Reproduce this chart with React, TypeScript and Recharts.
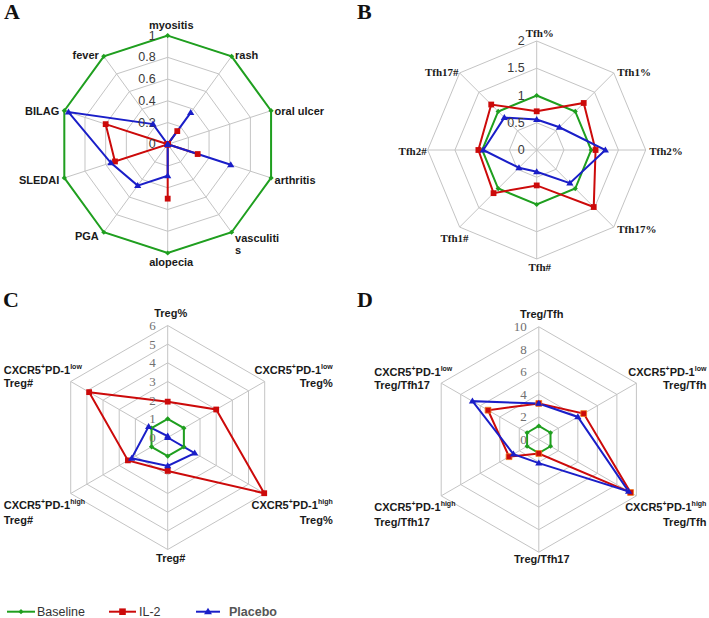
import React from 'react';
import { RadarChart, Radar, PolarGrid, PolarAngleAxis, PolarRadiusAxis } from 'recharts';

// ---------- data ----------
const SERIES_NAMES = ['Baseline', 'IL-2', 'Placebo'];

const categoriesA = ['myositis', 'rash', 'oral ulcer', 'arthritis', 'vasculitis', 'alopecia', 'PGA', 'SLEDAI', 'BILAG', 'fever'];
const baselineA = [1, 1, 1, 1, 1, 1, 1, 1, 1, 1];
const il2A = [0, 0.15, 0, 0.29, 0, 0.5, 0, 0.51, 0.6, 0];
const placeboA = [0, 0.36, 0, 0.61, 0, 0.29, 0.47, 0.55, 0.96, 0.23];
const ticksA = [0, 0.2, 0.4, 0.6, 0.8, 1];

const categoriesB = ['Tfh%', 'Tfh1%', 'Tfh2%', 'Tfh17%', 'Tfh#', 'Tfh1#', 'Tfh2#', 'Tfh17#'];
const baselineB = [1, 1, 1, 1, 1, 1, 1, 1];
const il2B = [0.71, 1.22, 1.08, 1.48, 0.65, 1.12, 1.07, 1.18];
const placeboB = [0.56, 0.59, 1.26, 0.86, 0.4, 0.46, 0.98, 0.84];
const ticksB = [0, 0.5, 1, 1.5, 2];

const categoriesC = ['Treg%', 'CXCR5+PD-1low Treg%', 'CXCR5+PD-1high Treg%', 'Treg#', 'CXCR5+PD-1high Treg#', 'CXCR5+PD-1low Treg#'];
const baselineC = [1, 1, 1, 1, 1, 1];
const il2C = [1.92, 3.0, 5.97, 1.79, 2.46, 4.86];
const placeboC = [0.08, 0, 1.67, 1.52, 2.23, 1.18];
const ticksC = [0, 1, 2, 3, 4, 5, 6];

const categoriesD = ['Treg/Tfh', 'CXCR5+PD-1low Treg/Tfh', 'CXCR5+PD-1high Treg/Tfh', 'Treg/Tfh17', 'CXCR5+PD-1high Treg/Tfh17', 'CXCR5+PD-1low Treg/Tfh17'];
const baselineD = [1.2, 1.2, 1.2, 1.2, 1.2, 1.2];
const il2D = [3.2, 4.6, 9.4, 1.24, 3.05, 5.2];
const placeboD = [3.2, 4.0, 9.2, 2.1, 2.6, 6.8];
const ticksD = [0, 2, 4, 6, 8, 10];

// ---------- styles ----------
const SANS = "'Liberation Sans', Arial, sans-serif";
const SERIF = "'Liberation Serif', 'Times New Roman', serif";

const SERIES_STYLE: Record<string, { color: string; shape: string; size: number }> = {
  Baseline: { color: '#1f9f1f', shape: 'diamond', size: 2.6 },
  'IL-2': { color: '#cc0a0a', shape: 'square', size: 2.9 },
  Placebo: { color: '#1a1ec8', shape: 'triangle', size: 3.0 },
};

function shapePath(shape: string, x: number, y: number, s: number) {
  if (shape === 'diamond') return `M${x},${y - s}L${x + s},${y}L${x},${y + s}L${x - s},${y}Z`;
  if (shape === 'square') return `M${x - s},${y - s}h${2 * s}v${2 * s}h${-2 * s}Z`;
  return `M${x},${y - s * 1.2}L${x + s * 1.2},${y + s * 0.8}L${x - s * 1.2},${y + s * 0.8}Z`;
}

function vertex(cx: number, cy: number, r: number, index: number, n: number) {
  const ang = ((90 - (index * 360) / n) * Math.PI) / 180;
  return { vx: cx + r * Math.cos(ang), vy: cy - r * Math.sin(ang), cos: Math.cos(ang), sin: Math.sin(ang) };
}

// simple labels for panels A and B
function makeSimpleTick(o: {
  cx: number; cy: number; r: number; n: number; font: string; gapR: number; gapL: number; k: number; c: number;
  topDy: number; botDy: number; midDx: number; wrap?: Record<string, string[]>; special?: Record<string, { dx: number; dy: number }>;
}) {
  return (props: any) => {
    const idx = props.payload?.index ?? props.index ?? 0;
    const value = String(props.payload?.value ?? '');
    const { vx, vy, cos, sin } = vertex(o.cx, o.cy, o.r, idx, o.n);
    let x: number, y: number, anchor: string;
    if (Math.abs(cos) < 0.01) {
      anchor = 'middle';
      x = vx + o.midDx;
      y = sin > 0 ? vy + o.topDy : vy + o.botDy;
    } else if (cos > 0) {
      anchor = 'start';
      x = vx + o.gapR;
      y = vy - sin * o.k + o.c;
    } else {
      anchor = 'end';
      x = vx - o.gapL;
      y = vy - sin * o.k + o.c;
    }
    if (o.special && o.special[value]) {
      x = vx + o.special[value].dx;
      y = vy + o.special[value].dy;
    }
    const lines = (o.wrap && o.wrap[value]) || [value];
    return (
      <g>
        {lines.map((ln, i) => (
          <text key={i} x={x} y={y + i * 12 + (lines.length > 1 ? 2 : 0)} textAnchor={anchor} dominantBaseline="central"
            fontFamily={o.font} fontWeight="bold" fontSize={11} fill="#1a1a1a">{ln}</text>
        ))}
      </g>
    );
  };
}

// two-line labels with superscripts for panels C and D
function makeCxcrTick(o: { cx: number; cy: number; r: number; n: number; topDy: number; botDy: number; rightDx: number; leftDx: number }) {
  return (props: any) => {
    const idx = props.payload?.index ?? props.index ?? 0;
    const value = String(props.payload?.value ?? '');
    const { vx, vy, cos, sin } = vertex(o.cx, o.cy, o.r, idx, o.n);
    const common = { fontFamily: SANS, fontWeight: 'bold' as const, fontSize: 11, fill: '#1a1a1a', dominantBaseline: 'central' as const };
    const m = /^CXCR5\+PD-1(low|high) (.+)$/.exec(value);
    if (!m) {
      return (
        <text x={vx + 3} y={sin > 0 ? vy + o.topDy : vy + o.botDy} textAnchor="middle" {...common}>{value}</text>
      );
    }
    const right = cos > 0;
    const upper = sin > 0;
    const x = right ? vx + o.rightDx : vx - o.leftDx;
    const anchor = right ? 'end' : 'start';
    const y1 = upper ? vy - 11.5 : vy + 11.5;
    const y2 = y1 + (upper ? 13 : 15);
    return (
      <g>
        <text x={x} y={y1} textAnchor={anchor} {...common}>
          CXCR5<tspan fontSize={7} dy={-4}>+</tspan><tspan fontSize={11} dy={4}>PD-1</tspan><tspan fontSize={7} dy={-4}>{m[1]}</tspan>
        </text>
        <text x={x} y={y2} textAnchor={anchor} {...common}>{m[2]}</text>
      </g>
    );
  };
}

function makeRadiusTick(font: string, color: string, size: number) {
  return (props: any) => {
    const v = Number(props.payload?.value);
    const label = String(Number(v.toFixed(2)));
    return (
      <text x={props.x - 12} y={props.y} textAnchor="end" dominantBaseline="central" fontFamily={font} fontSize={size} fill={color}>
        {label}
      </text>
    );
  };
}

type PanelCfg = {
  left: number; top: number; cx: number; cy: number; r: number;
  cats: string[]; values: number[][]; ticks: number[]; domain: [number, number];
  angleTick: any; radiusTick: any; squareStroke?: string;
};

const panelA: PanelCfg = {
  left: 0, top: 0, cx: 167.7, cy: 144.3, r: 108.7,
  cats: categoriesA, values: [baselineA, il2A, placeboA], ticks: ticksA, domain: [0, 1],
  angleTick: makeSimpleTick({ cx: 167.7, cy: 144.3, r: 108.7, n: 10, font: SANS, gapR: 3.5, gapL: 5, k: 3, c: 1.5, topDy: -10.7, botDy: 8.7, midDx: 3.5, wrap: { vasculitis: ['vasculiti', 's'] } }),
  radiusTick: makeRadiusTick(SANS, '#3a3a3a', 12.5),
};

const panelB: PanelCfg = {
  left: 354, top: 0, cx: 182.7, cy: 150, r: 109,
  cats: categoriesB, values: [baselineB, il2B, placeboB], ticks: ticksB, domain: [0, 2],
  angleTick: makeSimpleTick({ cx: 182.7, cy: 150, r: 109, n: 8, font: SERIF, gapR: 3.5, gapL: 1, k: 2, c: 0.5, topDy: -7.7, botDy: 7.7, midDx: 3, special: { 'Tfh1#': { dx: 9, dy: 10.5 } } }),
  radiusTick: makeRadiusTick(SANS, '#3a3a3a', 12.5),
};

const panelC: PanelCfg = {
  left: 0, top: 290, cx: 167.7, cy: 147.5, r: 112,
  cats: categoriesC, values: [baselineC, il2C, placeboC], ticks: ticksC, domain: [0, 6],
  angleTick: makeCxcrTick({ cx: 167.7, cy: 147.5, r: 112, n: 6, topDy: -12.2, botDy: 8.8, rightDx: 68, leftDx: 67 }),
  radiusTick: makeRadiusTick(SERIF, '#707070', 13),
};

const panelD: PanelCfg = {
  left: 354, top: 290, cx: 184.8, cy: 149.5, r: 112.7,
  cats: categoriesD, values: [baselineD, il2D, placeboD], ticks: ticksD, domain: [0, 10],
  angleTick: makeCxcrTick({ cx: 184.8, cy: 149.5, r: 112.7, n: 6, topDy: -13, botDy: 7, rightDx: 70, leftDx: 67 }),
  radiusTick: makeRadiusTick(SERIF, '#707070', 13),
  squareStroke: '#f07a1a',
};

function Panel({ cfg }: { cfg: PanelCfg }) {
  const data = cfg.cats.map((c, i) => ({
    cat: c,
    Baseline: cfg.values[0][i],
    'IL-2': cfg.values[1][i],
    Placebo: cfg.values[2][i],
  }));
  return (
    <div style={{ position: 'absolute', left: cfg.left, top: cfg.top, width: 354, height: 290 }}>
      <RadarChart width={354} height={290} data={data} cx={cfg.cx} cy={cfg.cy} outerRadius={cfg.r}
        margin={{ top: 0, right: 0, bottom: 0, left: 0 }}>
        <PolarGrid gridType="polygon" stroke="#c4c4c4" strokeWidth={1} />
        <PolarAngleAxis dataKey="cat" tick={cfg.angleTick} tickLine={false} axisLine={false} />
        <PolarRadiusAxis angle={90} type="number" domain={cfg.domain} ticks={cfg.ticks} tickCount={cfg.ticks.length}
          axisLine={false} tickLine={false} tick={cfg.radiusTick} />
        {SERIES_NAMES.map((name) => {
          const st = SERIES_STYLE[name];
          return (
            <Radar key={name} name={name} dataKey={name} stroke={st.color} strokeWidth={2} fill="none" fillOpacity={0}
              isAnimationActive={false}
              dot={(p: any) => (
                <path key={`${name}-${p.index}`} d={shapePath(st.shape, p.cx, p.cy, st.size)} fill={st.color}
                  stroke={st.shape === 'square' && cfg.squareStroke ? cfg.squareStroke : 'none'} strokeWidth={0.8} />
              )}
            />
          );
        })}
      </RadarChart>
    </div>
  );
}

const legendLayout = [
  { x1: 7, x2: 35, tx: 37, bold: false, fill: '#333' },
  { x1: 109, x2: 136, tx: 139, bold: false, fill: '#333' },
  { x1: 196, x2: 220, tx: 229, bold: true, fill: '#555' },
];

export default function App() {
  return (
    <div style={{ position: 'absolute', left: 0, top: 0, width: 709, height: 618, background: '#fff', overflow: 'hidden' }}>
      <Panel cfg={panelA} />
      <Panel cfg={panelB} />
      <Panel cfg={panelC} />
      <Panel cfg={panelD} />
      <svg width={709} height={618} style={{ position: 'absolute', left: 0, top: 0, pointerEvents: 'none' }}>
        <g fontFamily={SERIF} fontWeight="bold" fontSize={22} fill="#111">
          <text x={4} y={18.5}>A</text>
          <text x={357} y={18.5}>B</text>
          <text x={3} y={307}>C</text>
          <text x={357} y={307}>D</text>
        </g>
        {SERIES_NAMES.map((name, i) => {
          const st = SERIES_STYLE[name];
          const L = legendLayout[i];
          const y = 611.7;
          const mx = (L.x1 + L.x2) / 2;
          return (
            <g key={name}>
              <line x1={L.x1} x2={L.x2} y1={y} y2={y} stroke={st.color} strokeWidth={2} />
              <path d={shapePath(st.shape, mx, y, st.shape === 'diamond' ? 2.6 : 3.3)} fill={st.color} />
              <text x={L.tx} y={y} dominantBaseline="central" fontFamily={SANS} fontSize={12.5}
                fontWeight={L.bold ? 'bold' : 'normal'} fill={L.fill}>{name}</text>
            </g>
          );
        })}
      </svg>
    </div>
  );
}
